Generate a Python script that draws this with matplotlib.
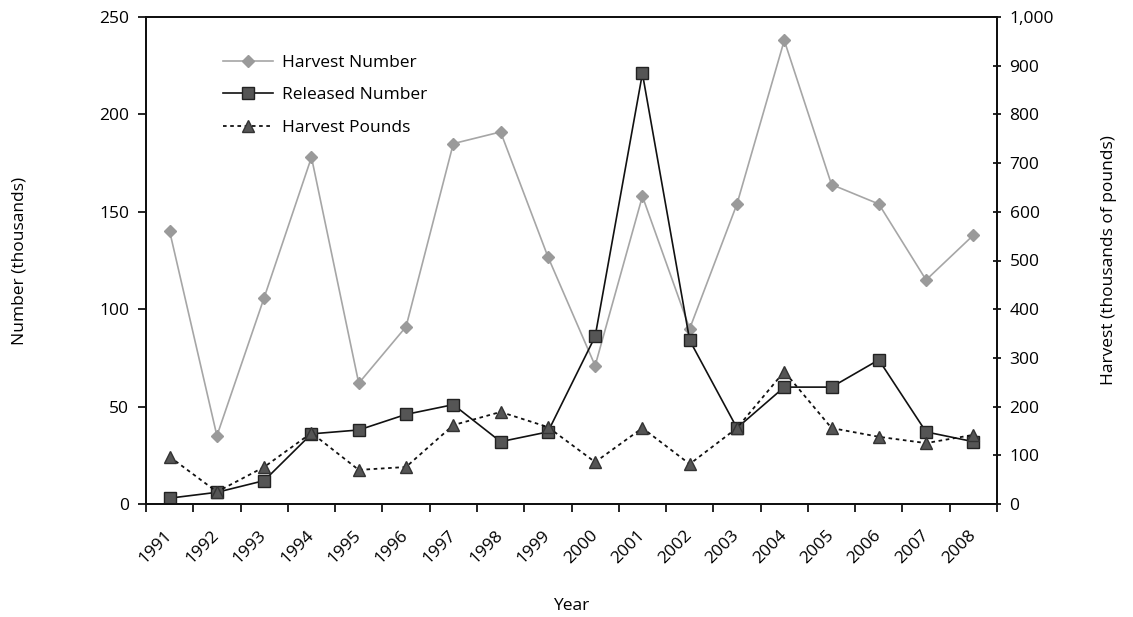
import matplotlib
matplotlib.use("Agg")
import matplotlib.pyplot as plt
import matplotlib.transforms as mtransforms
import numpy as np

# Data
years = [str(y) for y in range(1991, 2009)]
harvest_number = [140, 35, 106, 178, 62, 91, 185, 191, 127, 71, 158, 90,
                  154, 238, 164, 154, 115, 138]
released_number = [3, 6, 12, 36, 38, 46, 51, 32, 37, 86, 221, 84,
                   39, 60, 60, 74, 37, 32]
harvest_pounds = [97, 25, 76, 146, 70, 76, 162, 189, 158, 86, 156, 82,
                  156, 272, 156, 138, 125, 142]

plt.rcParams["font.family"] = ["Open Sans", "DejaVu Sans"]
FS = 12.5

fig = plt.figure(figsize=(11.33, 6.17), dpi=100)
ax = fig.add_axes([146 / 1133, 1 - 504 / 617, (997 - 146) / 1133, (504 - 17) / 617])
ax2 = ax.twinx()

x = np.arange(len(years))

h1, = ax.plot(x, harvest_number, color="#a6a6a6", lw=1.2, marker="D", ms=6,
              mfc="#9a9a9a", mec="#9a9a9a", label="Harvest Number")
h2, = ax.plot(x, released_number, color="#111111", lw=1.2, marker="s", ms=8,
              mfc="#555555", mec="#222222", label="Released Number")
h3, = ax2.plot(x, harvest_pounds, color="#111111", lw=1.3, ls=(0, (2, 2)),
               marker="^", ms=8, mfc="#555555", mec="#333333",
               label="Harvest Pounds")

ax.set_xlim(-0.5, len(years) - 0.5)
ax.set_ylim(0, 250)
ax2.set_ylim(0, 1000)
ax.set_yticks(range(0, 251, 50))
ax2.set_yticks(range(0, 1001, 100))
ax2.set_yticklabels([f"{v:,}" for v in range(0, 1001, 100)])

ax.set_xticks(x)
ax.set_xticklabels(years, rotation=45, ha="right", va="center",
                   rotation_mode="anchor")
# nudge the rotated year labels a little to the right
shift = mtransforms.ScaledTranslation(6 / 100, 0, fig.dpi_scale_trans)
for lbl in ax.get_xticklabels():
    lbl.set_transform(lbl.get_transform() + shift)
ax.set_xticks(np.arange(-0.5, len(years)), minor=True)
ax.tick_params(axis="x", which="major", length=0, pad=21, labelsize=FS)
ax.tick_params(axis="x", which="minor", length=6, width=1.2, direction="out")
ax.tick_params(axis="y", length=6, width=1.2, labelsize=FS, pad=6)
ax2.tick_params(axis="y", length=6, width=1.2, direction="inout",
                labelsize=FS, pad=6)

for a in (ax, ax2):
    for s in a.spines.values():
        s.set_linewidth(1.4)
        s.set_color("#111111")

ax.set_ylabel("Number (thousands)", fontsize=FS, labelpad=52)
ax2.set_ylabel("Harvest (thousands of pounds)", fontsize=FS, labelpad=34)
ax.set_xlabel("Year", fontsize=FS, labelpad=22)

ax.legend(handles=[h1, h2, h3], loc="upper left", frameon=False,
          bbox_to_anchor=(0.072, 0.955), fontsize=FS, handlelength=2.9,
          labelspacing=0.95, handletextpad=0.5)

fig.savefig("out.png", dpi=100)
